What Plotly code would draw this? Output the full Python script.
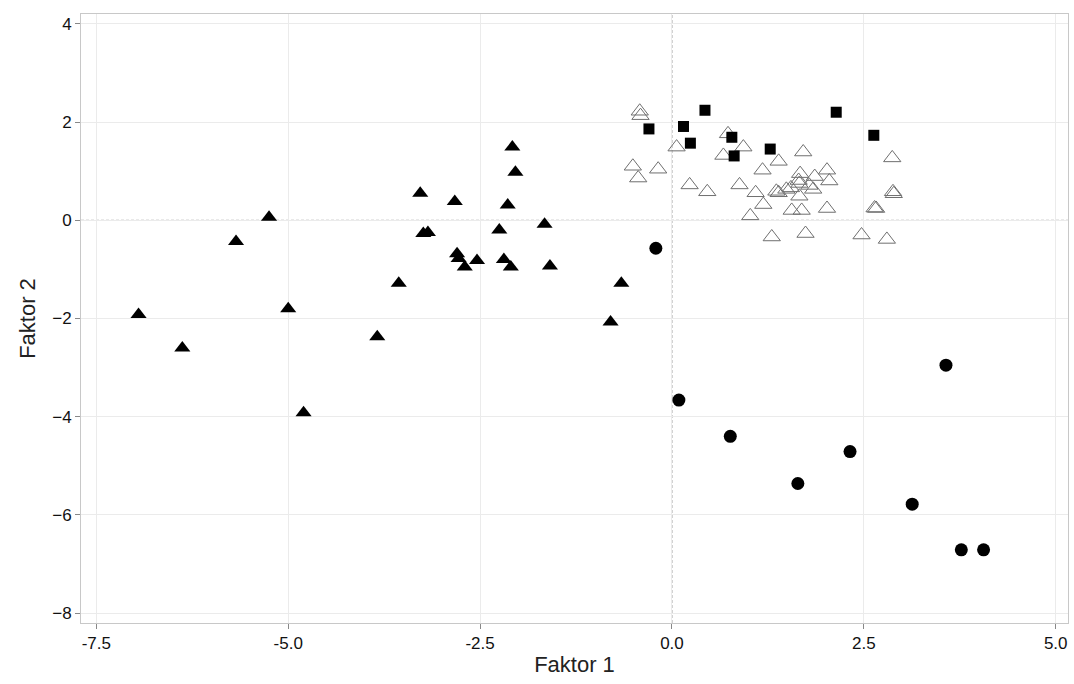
import plotly.graph_objects as go

# Black filled triangles
tri_x = [-6.95, -6.38, -5.68, -5.25, -5.00, -4.80, -3.84, -3.56, -3.28, -3.24, -3.18,
         -2.83, -2.80, -2.78, -2.70, -2.54, -2.25, -2.19, -2.10, -2.14, -2.08, -2.04,
         -1.66, -1.59, -0.80, -0.66]
tri_y = [-1.92, -2.60, -0.43, 0.06, -1.80, -3.92, -2.37, -1.28, 0.55, -0.27, -0.25,
         0.38, -0.68, -0.78, -0.95, -0.82, -0.20, -0.80, -0.95, 0.31, 1.49, 0.98,
         -0.08, -0.93, -2.07, -1.28]

# Black filled circles
circ_x = [-0.21, 0.09, 0.76, 1.64, 2.32, 3.57, 3.13, 3.77, 4.06]
circ_y = [-0.57, -3.66, -4.40, -5.36, -4.71, -2.95, -5.78, -6.71, -6.71]

# Black filled squares
sq_x = [0.43, -0.30, 0.15, 0.24, 0.78, 0.81, 1.28, 2.14, 2.63]
sq_y = [2.24, 1.86, 1.91, 1.57, 1.69, 1.31, 1.45, 2.20, 1.73]

# Open triangles
otri_x = [-0.42, -0.41, 0.06, -0.51, -0.18, -0.44, 0.23, 0.46, 0.73, 0.67, 0.93, 0.88,
          1.09, 1.19, 1.02, 1.39, 1.18, 1.71, 1.36, 1.39, 1.49, 1.55, 1.67, 1.65, 1.66,
          1.86, 1.84, 1.79, 2.02, 2.05, 1.66, 1.56, 1.69, 2.02, 2.87, 2.88, 2.89, 2.66,
          2.64, 1.30, 1.74, 2.47, 2.80]
otri_y = [2.22, 2.13, 1.49, 1.10, 1.04, 0.86, 0.72, 0.58, 1.76, 1.32, 1.49, 0.72,
          0.56, 0.32, 0.09, 1.20, 1.02, 1.39, 0.59, 0.56, 0.63, 0.66, 0.95, 0.81, 0.75,
          0.89, 0.63, 0.71, 1.02, 0.80, 0.49, 0.20, 0.20, 0.24, 1.27, 0.58, 0.54, 0.24,
          0.25, -0.34, -0.27, -0.30, -0.39]

x_ticks = [-7.5, -5.0, -2.5, 0.0, 2.5, 5.0]
x_tick_labels = ["-7.5", "-5.0", "-2.5", "0.0", "2.5", "5.0"]
y_ticks = [-8, -6, -4, -2, 0, 2, 4]

fig = go.Figure()
fig.add_trace(go.Scatter(x=otri_x, y=otri_y, mode="markers",
                         marker=dict(symbol="triangle-up-open", size=15, color="#6f6f6f",
                                     line=dict(width=1, color="#6f6f6f"))))
fig.add_trace(go.Scatter(x=tri_x, y=tri_y, mode="markers",
                         marker=dict(symbol="triangle-up", size=14, color="black",
                                     line=dict(width=0))))
fig.add_trace(go.Scatter(x=sq_x, y=sq_y, mode="markers",
                         marker=dict(symbol="square", size=11, color="black",
                                     line=dict(width=0))))
fig.add_trace(go.Scatter(x=circ_x, y=circ_y, mode="markers",
                         marker=dict(symbol="circle", size=13, color="black",
                                     line=dict(width=0))))

fig.add_shape(type="line", x0=0, x1=0, y0=0, y1=1, xref="x", yref="paper",
              line=dict(color="#a0a0a0", width=1, dash="3px,2px"), layer="below")
fig.add_shape(type="line", x0=0, x1=1, y0=0, y1=0, xref="paper", yref="y",
              line=dict(color="#a0a0a0", width=1, dash="3px,2px"), layer="below")

fig.update_layout(
    width=1074, height=684,
    margin=dict(l=81, r=6, t=14, b=61),
    plot_bgcolor="white", paper_bgcolor="white",
    showlegend=False,
    font=dict(family="Liberation Sans, Arial, sans-serif", color="#111111"),
)
fig.update_xaxes(range=[-7.7, 5.16], tickvals=x_ticks, ticktext=x_tick_labels,
                 showgrid=True, gridcolor="#ebebeb", gridwidth=1, zeroline=False,
                 showline=True, linecolor="#c8c8c8", mirror=True, linewidth=1,
                 ticks="outside", ticklen=5, tickcolor="#888888",
                 tickfont=dict(size=17, color="#111111"),
                 title=dict(text="Faktor 1", font=dict(size=22, color="#222222"), standoff=4))
fig.update_yaxes(range=[-8.2, 4.2], tickvals=y_ticks,
                 showgrid=True, gridcolor="#ebebeb", gridwidth=1, zeroline=False,
                 showline=True, linecolor="#c8c8c8", mirror=True, linewidth=1,
                 ticks="outside", ticklen=5, tickcolor="#888888",
                 tickfont=dict(size=17, color="#111111"),
                 title=dict(text="Faktor 2", font=dict(size=22, color="#222222"), standoff=10))

fig.write_html("out.html")
